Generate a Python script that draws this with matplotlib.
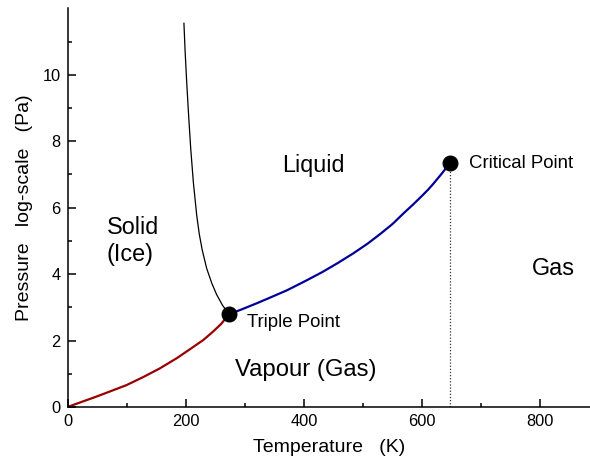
import matplotlib
matplotlib.use("Agg")
import matplotlib.pyplot as plt

plt.rcParams['font.family'] = ['Liberation Sans', 'DejaVu Sans']

# Sublimation curve (solid-vapour)
sub_T = [0, 25, 50, 75, 100, 128, 156, 185, 213, 230, 245, 260, 273]
sub_P = [0, 0.16, 0.32, 0.49, 0.66, 0.9, 1.16, 1.47, 1.81, 2.02, 2.25, 2.5, 2.79]

# Melting curve (solid-liquid)
melt_T = [197, 199, 201.7, 205, 208.5, 213, 218.6, 223, 228, 235.5, 244, 252.4, 262, 273]
melt_P = [11.55, 10.7, 9.77, 8.75, 7.77, 6.75, 5.77, 5.2, 4.72, 4.17, 3.73, 3.38, 3.07, 2.79]

# Vaporisation curve (liquid-vapour)
vap_T = [273, 295, 320, 345, 371, 400, 430, 457, 484, 508, 530, 550,
         568, 585, 600, 610, 619, 633, 647]
vap_P = [2.79, 2.94, 3.12, 3.31, 3.51, 3.77, 4.05, 4.33, 4.63, 4.92, 5.22,
         5.51, 5.82, 6.1, 6.36, 6.54, 6.72, 7.02, 7.34]

triple = (273, 2.79)
critical = (647, 7.34)

x_ticks = [0, 200, 400, 600, 800]
y_ticks = [0, 2, 4, 6, 8, 10]

fig = plt.figure(figsize=(5.9, 4.68), dpi=100)
ax = fig.add_axes([67.5 / 590, 61 / 468, 522.5 / 590, 398.7 / 468])

ax.plot(sub_T, sub_P, color='#990000', lw=1.6, zorder=2)
ax.plot(melt_T, melt_P, color='black', lw=0.9, zorder=2)
ax.plot(vap_T, vap_P, color='#000099', lw=1.6, zorder=2)
ax.plot([critical[0], critical[0]], [0, critical[1]], color='#333333',
        lw=0.9, ls=(0, (1, 1.5)), zorder=1)
ax.plot([triple[0], critical[0]], [triple[1], critical[1]], 'o', color='black',
        ms=10.5, zorder=3)

ax.set_xlim(0, 884)
ax.set_ylim(0, 12)
ax.set_xticks(x_ticks)
ax.set_yticks(y_ticks)
ax.set_xticks(range(100, 900, 200), minor=True)
ax.set_yticks([1, 3, 5, 7, 9, 11], minor=True)
ax.tick_params(which='both', direction='in', width=1.1, labelsize=11.8)
ax.tick_params(which='major', length=5.5, pad=5)
ax.tick_params(which='minor', length=3)
for s in ['top', 'right']:
    ax.spines[s].set_visible(False)
for s in ['left', 'bottom']:
    ax.spines[s].set_linewidth(1.1)

ax.set_xlabel('Temperature   (K)', fontsize=14, labelpad=7)
ax.set_ylabel('Pressure   log-scale   (Pa)', fontsize=14, labelpad=7)

ax.text(66.8, 5.0, 'Solid\n(Ice)', fontsize=16.8, ha='left', va='center',
        linespacing=1.25)
ax.text(363, 7.27, 'Liquid', fontsize=16.8, ha='left', va='center')
ax.text(786, 4.17, 'Gas', fontsize=16.8, ha='left', va='center')
ax.text(283, 1.11, 'Vapour (Gas)', fontsize=17.2, ha='left', va='center')
ax.text(303, 2.53, 'Triple Point', fontsize=13.4, ha='left', va='center')
ax.text(679, 7.32, 'Critical Point', fontsize=13.4, ha='left', va='center')

fig.savefig('out.png', dpi=100)
